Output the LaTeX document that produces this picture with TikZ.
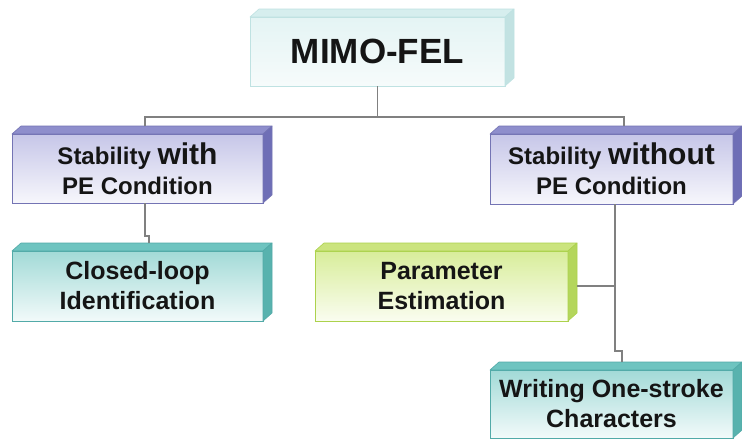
\documentclass[tikz,border=0pt]{standalone}
\usepackage{fontspec}
\setmainfont{Liberation Sans}
\usetikzlibrary{calc}
\definecolor{mimoTop}{HTML}{D6EEEE}
\definecolor{mimoSide}{HTML}{C2E2E2}
\definecolor{mimoA}{HTML}{E4F4F4}
\definecolor{mimoB}{HTML}{F6FBFB}
\definecolor{mimoLine}{HTML}{BFE2E2}
\definecolor{purTop}{HTML}{8E8ECC}
\definecolor{purSide}{HTML}{6E6EB6}
\definecolor{purA}{HTML}{C6C6E8}
\definecolor{purB}{HTML}{F7F7FC}
\definecolor{purLine}{HTML}{7474B4}
\definecolor{tealTop}{HTML}{6EC4C0}
\definecolor{tealSide}{HTML}{58B2AE}
\definecolor{tealA}{HTML}{A2DAD7}
\definecolor{tealB}{HTML}{F2FAFA}
\definecolor{tealLine}{HTML}{52AAA8}
\definecolor{grnTop}{HTML}{CBE47E}
\definecolor{grnSide}{HTML}{B4D65C}
\definecolor{grnA}{HTML}{D8ED9A}
\definecolor{grnB}{HTML}{FAFDF0}
\definecolor{grnLine}{HTML}{ACD24C}
\definecolor{connGray}{HTML}{808080}
\definecolor{txt}{HTML}{151515}
\newcommand\boxsides[4]{%
  \filldraw[fill=#2, draw=#4, line width=0.6pt, line join=round]
    (#1.north west) -- ++(9,-8) -- ($(#1.north east)+(9,-8)$) -- (#1.north east) -- cycle;
  \filldraw[fill=#3, draw=#4, line width=0.6pt, line join=round]
    (#1.north east) -- ++(9,-8) -- ($(#1.south east)+(9,-8)$) -- (#1.south east) -- cycle;}
\begin{document}
\begin{tikzpicture}[x=1pt,y=-1pt,
  front/.style={rectangle, inner sep=0pt, outer sep=0pt, line width=0.6pt,
    align=center, text=txt, font=\bfseries\fontsize{25}{30}\selectfont},
  conn/.style={draw=connGray, line width=1.8pt}]
\useasboundingbox (0,0) rectangle (742,440);
\fill[white] (0,0) rectangle (742,440);

\node[front, minimum width=255pt, minimum height=69pt,
  top color=mimoA, bottom color=mimoB, draw=mimoLine,
  font=\bfseries\fontsize{35}{40}\selectfont] (mimo) at (377.5,51.5) {MIMO-FEL};
\boxsides{mimo}{mimoTop}{mimoSide}{mimoLine}

\node[front, minimum width=251pt, minimum height=69pt,
  top color=purA, bottom color=purB, draw=purLine] (with) at (137.5,168.5)
  {\fontsize{24}{30}\selectfont Stability {\fontsize{30}{30}\selectfont with}\\
   \fontsize{24}{30}\selectfont PE Condition};
\boxsides{with}{purTop}{purSide}{purLine}

\node[front, minimum width=243pt, minimum height=70pt,
  top color=purA, bottom color=purB, draw=purLine] (without) at (611.5,169)
  {\fontsize{24}{30}\selectfont Stability {\fontsize{30}{30}\selectfont without}\\
   \fontsize{24}{30}\selectfont PE Condition};
\boxsides{without}{purTop}{purSide}{purLine}

\node[front, minimum width=251pt, minimum height=70pt,
  top color=tealA, bottom color=tealB, draw=tealLine] (closed) at (137.5,286)
  {Closed-loop\\Identification};
\boxsides{closed}{tealTop}{tealSide}{tealLine}

\node[front, minimum width=253pt, minimum height=70pt,
  top color=grnA, bottom color=grnB, draw=grnLine] (param) at (441.5,286)
  {Parameter\\Estimation};
\boxsides{param}{grnTop}{grnSide}{grnLine}

\node[front, minimum width=243pt, minimum height=68pt,
  top color=tealA, bottom color=tealB, draw=tealLine] (writing) at (611.5,404)
  {Writing One-stroke\\Characters};
\boxsides{writing}{tealTop}{tealSide}{tealLine}

% connectors
\coordinate (hub) at ($(mimo.south)+(0,31)$);
\coordinate (vline) at ($(without.south)+(3.5,0)$);
\draw[conn] (mimo.south) -- (hub);
\draw[conn] ($(with.north)+(7.5,-8)$) |- (hub) -| ($(without.north)+(12.5,-8)$);
\draw[conn] ($(with.south)+(7.5,0)$) -- ++(0,33) -- ++(4,0) -- ($(closed.north)+(11.5,-8)$);
\draw[conn] (vline) -- ++(0,147) -- ++(7,0) -- ($(writing.north)+(10.5,-8)$);
\draw[conn] ($(param.east)+(9,0)$) -- (vline |- param.east);
\end{tikzpicture}
\end{document}
